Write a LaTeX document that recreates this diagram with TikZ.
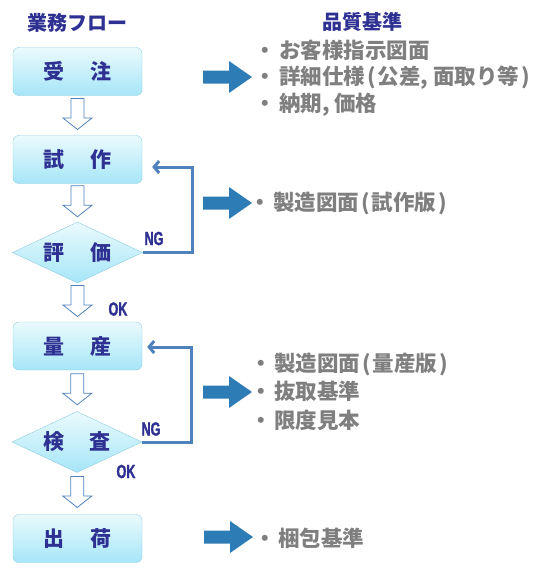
\documentclass[tikz,border=0pt]{standalone}
\usepackage{fontspec}
\usepackage{tikz}
\usetikzlibrary{shapes.geometric,arrows.meta,calc,positioning}
\setmainfont{Noto Sans CJK JP}
\newfontfamily\narrowfont{Liberation Sans}[FakeStretch=0.66, BoldFeatures={FakeBold=1.6}]

\definecolor{navy}{HTML}{2E3192}
\definecolor{textgray}{HTML}{7F7F7F}
\definecolor{boxline}{HTML}{8DCDE3}
\definecolor{boxtop}{HTML}{EAFAFD}
\definecolor{boxbot}{HTML}{A6E6F8}
\definecolor{loopblue}{HTML}{4F81BD}
\definecolor{bigblue}{HTML}{2E7CB5}

% narrow parentheses as in the reference
\newcommand{\lpar}{\hspace{2pt}(\hspace{2pt}}
\newcommand{\rpar}{\hspace{2pt})}

\tikzset{
  flowbox/.style={rectangle, rounded corners=6pt, draw=boxline, top color=boxtop, bottom color=boxbot,
    minimum width=129pt, minimum height=48pt, text=navy, font=\fontsize{21}{21}\selectfont\bfseries},
  judge/.style={diamond, aspect=2.1, inner sep=0pt, draw=boxline, top color=boxtop, bottom color=boxbot,
    minimum width=130pt, minimum height=61pt, text=navy, font=\fontsize{21}{21}\selectfont\bfseries},
  heading/.style={text=navy, font=\fontsize{20}{20}\selectfont\bfseries},
  spec/.style={anchor=west, align=left, text=textgray, font=\fontsize{21.5}{26.5}\selectfont\bfseries},
  verdict/.style={text=navy, font=\fontsize{19}{19}\narrowfont\bfseries},
  ngline/.style={draw=loopblue, line width=3pt, -{Straight Barb[length=5pt,width=12pt]}},
  hollowdown/.pic={
    \draw[draw=loopblue, fill=white, line width=0.8pt]
      (-6.5,-15.5) -- (6.5,-15.5) -- (6.5,4) -- (14.5,4) -- (0,15.5) -- (-14.5,4) -- (-6.5,4) -- cycle;
  },
  bigright/.pic={
    \fill[bigblue] (0,0) -- (-23,-16) -- (-23,-6.5) -- (-49,-6.5) -- (-49,6.5) -- (-23,6.5) -- (-23,16) -- cycle;
  }
}

\begin{document}
\begin{tikzpicture}[x=1pt, y=-1pt]
    \useasboundingbox (0,0) rectangle (550,574);

    % headings
    \node[heading] (flowtitle) at (77.5,22.5) {業務フロー};
    \node[heading] (spectitle) at (362,21.5) {品質基準};

    % flow
    \node[flowbox] (order) at (77.5,71.5) {受\hspace{1.2em}注};
    \node[flowbox] (trial) at (77.5,159.5) {試\hspace{1.2em}作};
    \node[judge] (eval) at (77.5,252.5) {評\hspace{1.2em}価};
    \node[flowbox] (mass) at (77.5,346) {量\hspace{1.2em}産};
    \node[judge] (insp) at (77,442) {検\hspace{1.2em}査};
    \node[flowbox] (ship) at (77.5,538.5) {出\hspace{1.2em}荷};

    \foreach \a/\b in {order/trial, trial/eval, eval/mass, mass/insp, insp/ship}
        \pic at ($(\a.south)!0.5!(\b.north)+(0,-1.5)$) {hollowdown};

    % NG loops
    \draw[ngline] (eval.east) -- ++(50,0) |- ([shift={(10,7.5)}]trial.east);
    \draw[ngline] (insp.east) -- ++(49,0) |- ([shift={(5,1)}]mass.east);
    \node[verdict] (ng1) at (154,238.5) {NG};
    \node[verdict] (ng2) at (151,429) {NG};
    \node[verdict] (ok1) at (118,309) {OK};
    \node[verdict] (ok2) at (126,471.5) {OK};

    % quality standards
    \node[spec] (req1) at (251,78) {・\hspace{3pt}お客様指示図面\\・\hspace{3pt}詳細仕様\lpar 公差, 面取り等\rpar\\・\hspace{3pt}納期, 価格};
    \node[spec] (req2) at (246,204) {・\hspace{2pt}製造図面\lpar 試作版\rpar};
    \node[spec, font=\fontsize{21.5}{28.5}\selectfont\bfseries] (req3) at (247,391.5) {・\hspace{2pt}製造図面\lpar 量産版\rpar\\・\hspace{2pt}抜取基準\\・\hspace{2pt}限度見本};
    \node[spec] (req4) at (251,538) {・\hspace{2pt}梱包基準};

    \pic at ([shift={(1,-1)}]req1.west) {bigright};
    \pic at ([shift={(6,-1)}]req2.west) {bigright};
    \pic at ([shift={(5,0.5)}]req3.west) {bigright};
    \pic at ([shift={(2,-1)}]req4.west) {bigright};
\end{tikzpicture}
\end{document}
